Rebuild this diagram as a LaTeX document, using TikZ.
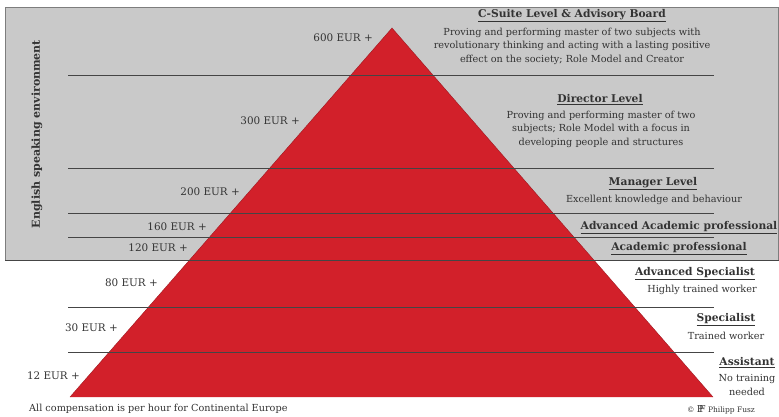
\documentclass[tikz,border=0pt]{standalone}
\usepackage{fontspec}
\setmainfont{DejaVu Serif}
\usepackage{tikz}

\definecolor{pyrred}{HTML}{D2202A}
\definecolor{envgrey}{HTML}{C9C9C9}
\definecolor{linegrey}{HTML}{454545}
\definecolor{txtgrey}{HTML}{333333}

\tikzset{
    pay/.style={anchor=east, inner sep=0pt, text=txtgrey, font=\fontsize{10.4}{12}\selectfont},
    levelhead/.style={inner sep=0pt, text=txtgrey, font=\fontsize{10.7}{12}\selectfont\bfseries},
    leveltext/.style={inner sep=0pt, align=center, text=txtgrey, font=\fontsize{9.7}{13.6}\selectfont},
}

\begin{document}
\begin{tikzpicture}[x=1pt,y=-1pt]

    \useasboundingbox (0,0) rectangle (779,416);

    % English speaking environment (grey box)
    \fill[envgrey] (5,7) rectangle (779,260);
    \draw[linegrey!70, thin] (5,260) -- (5,7) -- (778.5,7) -- (778.5,260);

    % pyramid
    \fill[pyrred] (70,397) -- (392,28) -- (713,397) -- cycle;
    \draw[pyrred!75!black, thin] (70,397) -- (392,28) -- (713,397);

    % level lines
    \foreach \y in {75,168,213,237,307,352} {
        \draw[linegrey, thin] (68,\y) -- (714,\y);
    }
    \draw[linegrey, thin] (5,260) -- (779,260);

    \node[rotate=90, inner sep=0pt, text=txtgrey, font=\fontsize{11}{12}\selectfont\bfseries] (env) at (37,134) {English speaking environment};

    % compensation per hour
    \begin{scope}[every node/.style={pay}]
        \node (p600) at (373,38) {600 EUR +};
        \node (p300) at (300,121) {300 EUR +};
        \node (p200) at (240,192) {200 EUR +};
        \node (p160) at (207,227) {160 EUR +};
        \node (p120) at (188,248) {120 EUR +};
        \node (p80) at (158,283) {80 EUR +};
        \node (p30) at (118,328) {30 EUR +};
        \node (p12) at (80,376) {12 EUR +};
    \end{scope}

    % levels
    \node[levelhead] (csuite) at (572,16) {\underline{C-Suite Level \& Advisory Board}};
    \node[leveltext] (csuitetxt) at (572,46) {Proving and performing master of two subjects with\\revolutionary thinking and acting with a lasting positive\\effect on the society; Role Model and Creator};

    \node[levelhead] (director) at (600,100) {\underline{Director Level}};
    \node[leveltext] (directortxt) at (601,129) {Proving and performing master of two\\subjects; Role Model with a focus in\\developing people and structures};

    \node[levelhead] (manager) at (653,184) {\underline{Manager Level}};
    \node[leveltext] (managertxt) at (654,200) {Excellent knowledge and behaviour};

    \node[levelhead] (advacad) at (679,228) {\underline{Advanced Academic professional}};
    \node[levelhead] (acad) at (679,249) {\underline{Academic professional}};

    \node[levelhead] (advspec) at (695,274) {\underline{Advanced Specialist}};
    \node[leveltext] (advspectxt) at (702,290) {Highly trained worker};

    \node[levelhead] (spec) at (726,320) {\underline{Specialist}};
    \node[leveltext] (spectxt) at (726,336) {Trained worker};

    \node[levelhead] (assist) at (747,363) {\underline{Assistant}};
    \node[leveltext] (assisttxt) at (747,385) {No training\\needed};

    % footer
    \node[anchor=west, inner sep=0pt, text=txtgrey, font=\fontsize{9.7}{10}\selectfont] (note) at (29,409) {All compensation is per hour for Continental Europe};
    \node[inner sep=0pt, text=txtgrey, font=\fontsize{7.5}{8}\selectfont] (copy) at (721,410) {\copyright{} {\fontsize{9.5}{9}\selectfont P\kern-0.45em F} Philipp Fusz};

\end{tikzpicture}
\end{document}
